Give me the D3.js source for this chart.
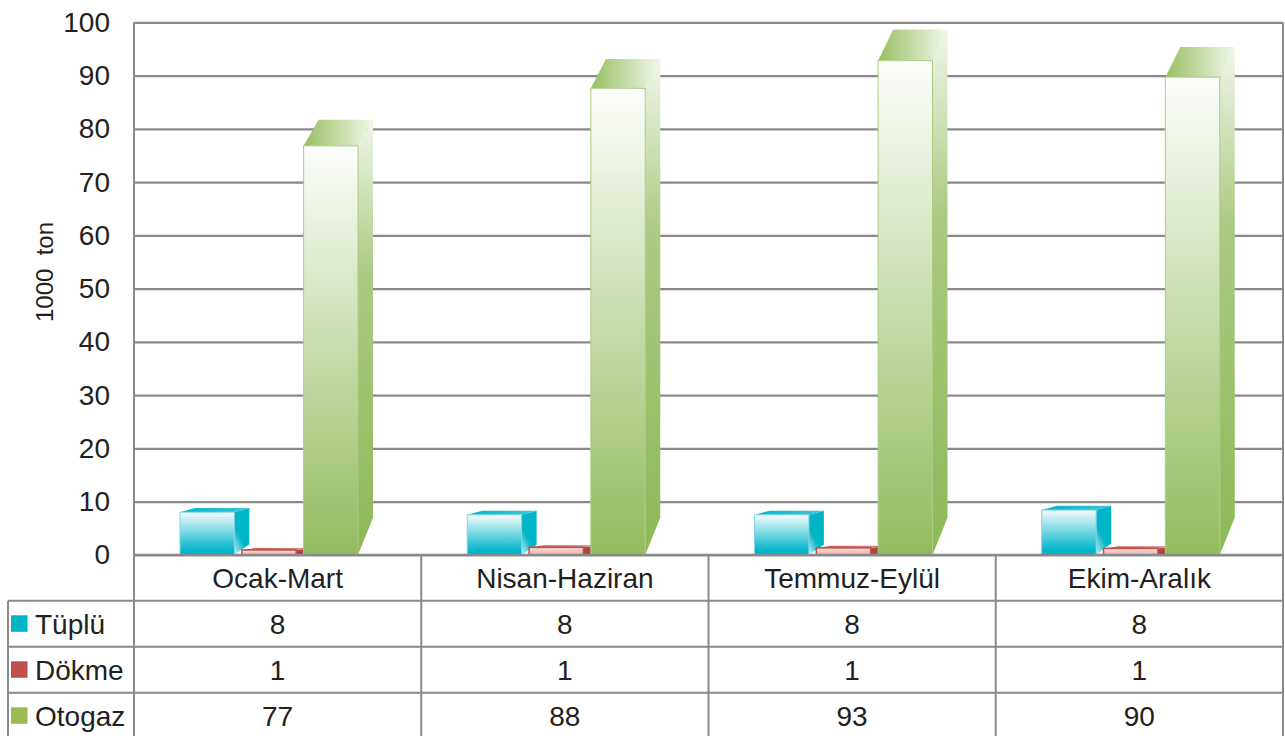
<!DOCTYPE html>
<html>
<head>
<meta charset="utf-8">
<script src="https://cdn.jsdelivr.net/npm/d3@7"></script>
<style>
  html, body { margin: 0; padding: 0; background: #fff; }
  svg { display: block; font-family: "Liberation Sans", Arial, Helvetica, sans-serif; }
</style>
</head>
<body>
<svg id="chart" width="1285" height="736"></svg>
<script>
// ---- data ----
const categories = ["Ocak-Mart", "Nisan-Haziran", "Temmuz-Eylül", "Ekim-Aralık"];
const seriesNames = ["Tüplü", "Dökme", "Otogaz"];
const tuplu  = [8.0, 7.5, 7.5, 8.4];
const dokme  = [0.9, 1.4, 1.3, 1.2];
const otogaz = [76.8, 87.6, 92.8, 89.7];
const yTicks = [0, 10, 20, 30, 40, 50, 60, 70, 80, 90, 100];
const yLabel = "1000  ton";

const seriesValues = [tuplu, dokme, otogaz];

// ---- layout ----
const svg = d3.select("#chart");
const plotLeft = 134, plotRight = 1283, plotTop = 22.3, plotBottom = 554.8;
const tableLeft = 8;
const textColor = "#231f20";
const lineColor = "#8a8a8a";

const y = d3.scaleLinear().domain([0, 100]).range([plotBottom, plotTop]);
const x = d3.scaleBand().domain(categories).range([plotLeft, plotRight]);
const inner = d3.scaleBand().domain(seriesNames).range([46, 224]).paddingInner(0.12);
const rowScale = d3.scaleBand().domain(["__header", ...seriesNames]).range([plotBottom, plotBottom + 4 * 46]);

// ---- gradients ----
const defs = svg.append("defs");
function grad(id, x2, y2, stops, x1 = 0, y1 = 0) {
  const g = defs.append("linearGradient").attr("id", id)
    .attr("x1", x1).attr("y1", y1).attr("x2", x2).attr("y2", y2);
  stops.forEach(([o, c]) => g.append("stop").attr("offset", o).attr("stop-color", c));
}
const styles = {
  "Tüplü": { legend: "#00b3c8", stroke: "#7fd4df" },
  "Dökme": { legend: "#c0504d", stroke: "#c0504d" },
  "Otogaz": { legend: "#9bbb59", stroke: "#aacd80" }
};
grad("front0", 0, 1, [[0, "#f6fcfd"], [0.9, "#00b5c9"], [1, "#00b5c9"]]);
grad("side0", 0, 1, [[0, "#00b5c8"], [0.55, "#00b5c8"], [1, "#d3eff3"]], 0.6, 0);
grad("top0", 1, 0, [[0, "#00b5c8"], [1, "#3fc5d3"]]);
grad("front1", 0, 1, [[0, "#fbdedb"], [1, "#eab0ac"]]);
grad("side1", 0, 1, [[0, "#b84c49"], [1, "#a8403d"]]);
grad("top1", 1, 0, [[0, "#c0504d"], [1, "#d88b88"]]);
grad("front2", 0, 1, [[0, "#fdfefc"], [1, "#93bb5e"]]);
grad("side2", 0, 1, [[0, "#f1f6ea"], [0.35, "#abca82"], [1, "#8db958"]]);
grad("top2", 1, 0, [[0, "#97bf62"], [1, "#f2f7ea"]]);

// ---- grid ----
const gridG = svg.append("g").attr("transform", `translate(${plotLeft},0)`)
  .call(d3.axisLeft(y).tickValues(yTicks).tickSize(-(plotRight - plotLeft)).tickFormat(""));
gridG.select(".domain").remove();
gridG.selectAll(".tick line").attr("stroke", lineColor).attr("stroke-width", 2.2);

// ---- y axis ----
const yAxisG = svg.append("g").attr("transform", `translate(${plotLeft},0)`)
  .call(d3.axisLeft(y).tickValues(yTicks).tickSize(0).tickPadding(24));
yAxisG.select(".domain").remove();
yAxisG.selectAll(".tick text")
  .attr("fill", textColor).style("font-size", "28px")
  .style("font-family", "'Liberation Sans', Arial, sans-serif");

svg.append("text")
  .attr("transform", `translate(53,272) rotate(-90)`)
  .attr("text-anchor", "middle")
  .attr("fill", textColor)
  .style("font-size", "24px")
  .style("white-space", "pre")
  .attr("xml:space", "preserve")
  .text(yLabel);

// ---- 3D bars ----
const barsG = svg.append("g");
const dx = 15;
categories.forEach((cat, ci) => {
  seriesNames.forEach((s, si) => {
    const v = seriesValues[si][ci];
    const x0 = x(cat) + inner(s);
    const bw = inner.bandwidth();
    const x1 = x0 + bw;
    const yT = y(v), yB = y(0);
    const dy = Math.max(1.5, 34.7 - 0.0594 * yT);
    const raise = Math.min(37, 0.25 * (yB - yT));
    const g = barsG.append("g");
    g.append("path")
      .attr("d", d3.line()([[x1, yT], [x1 + dx, yT - dy], [x1 + dx, yB - raise], [x1, yB]]) + "Z")
      .attr("fill", `url(#side${si})`);
    g.append("path")
      .attr("d", d3.line()([[x0, yT], [x0 + dx, yT - dy], [x1 + dx, yT - dy], [x1, yT]]) + "Z")
      .attr("fill", `url(#top${si})`);
    g.append("rect")
      .attr("x", x0).attr("y", yT).attr("width", bw).attr("height", yB - yT)
      .attr("fill", `url(#front${si})`)
      .attr("stroke", styles[s].stroke).attr("stroke-width", si === 1 ? 1.5 : 1);
  });
});

// ---- axis lines ----
svg.append("line").attr("x1", plotLeft).attr("x2", plotLeft).attr("y1", plotTop).attr("y2", 736)
  .attr("stroke", lineColor).attr("stroke-width", 2);
svg.append("line").attr("x1", plotRight).attr("x2", plotRight).attr("y1", plotTop).attr("y2", 736)
  .attr("stroke", lineColor).attr("stroke-width", 2);
svg.append("line").attr("x1", plotLeft).attr("x2", plotRight).attr("y1", plotBottom).attr("y2", plotBottom)
  .attr("stroke", lineColor).attr("stroke-width", 2.2);

// ---- data table ----
const tableG = svg.append("g");
seriesNames.forEach(s => {
  tableG.append("line")
    .attr("x1", tableLeft).attr("x2", plotRight)
    .attr("y1", rowScale(s)).attr("y2", rowScale(s))
    .attr("stroke", lineColor).attr("stroke-width", 2);
});
tableG.append("line")
  .attr("x1", tableLeft).attr("x2", tableLeft)
  .attr("y1", rowScale(seriesNames[0])).attr("y2", 736)
  .attr("stroke", lineColor).attr("stroke-width", 2);
categories.slice(1).forEach(c => {
  tableG.append("line")
    .attr("x1", x(c)).attr("x2", x(c))
    .attr("y1", plotBottom).attr("y2", 736)
    .attr("stroke", lineColor).attr("stroke-width", 2);
});
categories.forEach(c => {
  tableG.append("text")
    .attr("x", x(c) + x.bandwidth() / 2)
    .attr("y", rowScale("__header") + rowScale.bandwidth() / 2)
    .attr("dy", "0.35em")
    .attr("text-anchor", "middle")
    .attr("fill", textColor)
    .style("font-size", "28px")
    .text(c);
});
const fmt = d3.format(".0f");
seriesNames.forEach((s, si) => {
  const cy = rowScale(s) + rowScale.bandwidth() / 2;
  tableG.append("rect")
    .attr("x", 11).attr("y", cy - 8.5).attr("width", 16.5).attr("height", 16.5)
    .attr("fill", styles[s].legend);
  tableG.append("text")
    .attr("x", 35).attr("y", cy).attr("dy", "0.35em")
    .attr("fill", textColor).style("font-size", "28px")
    .text(s);
  categories.forEach((c, ci) => {
    tableG.append("text")
      .attr("x", x(c) + x.bandwidth() / 2).attr("y", cy).attr("dy", "0.35em")
      .attr("text-anchor", "middle")
      .attr("fill", textColor).style("font-size", "28px")
      .text(fmt(seriesValues[si][ci]));
  });
});
</script>
</body>
</html>
